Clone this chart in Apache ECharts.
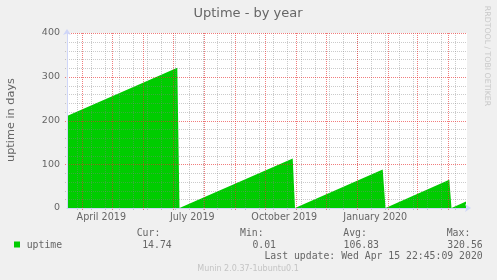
<!DOCTYPE html>
<html><head><meta charset="utf-8">
<script src="https://cdn.jsdelivr.net/npm/echarts@6/dist/echarts.min.js"></script>
<style>html,body{margin:0;padding:0;background:#f0f0f0}#c{width:497px;height:280px}</style>
</head><body><div id="c"></div>
<script>
// ---- data ----
const pointTimes = ['2019-03-16 17:00','2019-07-05 00:00','2019-07-07 05:00','2019-10-28 10:00','2019-10-30 17:00','2020-01-26 10:00','2020-01-29 05:00','2020-04-02 00:00','2020-04-04 05:00','2020-04-18 17:00'];
const uptimeDays = [210.3, 320.56, 0.01, 113, 0.01, 88, 0.01, 64.7, 0.01, 14.74];
const monthLineDates = ['2019-04-01','2019-05-01','2019-06-01','2019-07-01','2019-08-01','2019-09-01','2019-10-01','2019-11-01','2019-12-01','2020-01-01','2020-02-01','2020-03-01','2020-04-01'];
const quarterLabelDates = ['2019-04-20','2019-07-20','2019-10-20','2020-01-19'];
const quarterLabels = ['April 2019','July 2019','October 2019','January 2020'];
const axisStart = '2019-03-16 17:00';
const axisEnd = '2020-04-19 17:00';
const minorGridStart = '2019-03-27';
const minorGridDays = 14;
const yMinorStep = 20;
const yMajorTicks = [0, 100, 200, 300, 400];
const legendName = 'uptime';
const legendHeaders = ['Cur:', 'Min:', 'Avg:', 'Max:'];
const legendValues = ['14.74', '0.01', '106.83', '320.56'];
const lastUpdate = 'Last update: Wed Apr 15 22:45:09 2020';
const titleText = 'Uptime - by year';
const yTitle = 'uptime in days';
const sideText = 'RRDTOOL / TOBI OETIKER';
const footer = 'Munin 2.0.37-1ubuntu0.1';

// ---- helpers ----
function ts(s) {
  const parts = s.split(' ');
  const d = parts[0].split('-').map(Number);
  const t = (parts[1] || '00:00').split(':').map(Number);
  return Date.UTC(d[0], d[1] - 1, d[2], t[0], t[1]);
}
const DAY = 86400000;
const xMin = ts(axisStart), xMax = ts(axisEnd);
const monthTs = monthLineDates.map(ts);
const labelTs = quarterLabelDates.map(ts);
const minorTs = [];
for (let t = ts(minorGridStart); t < xMax; t += minorGridDays * DAY) minorTs.push(t);
const yMinorVals = [];
for (let v = yMinorStep; v < yMajorTicks[yMajorTicks.length-1]; v += yMinorStep) if (yMajorTicks.indexOf(v) < 0) yMinorVals.push(v);
const seriesData = pointTimes.map((p, i) => [ts(p), uptimeDays[i]]);

const gridColor = 'rgba(130,130,130,0.42)';
const majorColor = 'rgba(232,45,45,0.62)';
const axisBlue = '#CFD6F8';
const fontColor = '#666666';
const sans = '"DejaVu Sans"';
const mono = '"DejaVu Sans Mono"';

const headerX = [136.7, 240, 343.3, 446.7];
const valueX = [171.7, 276, 379, 482.7];

const graphics = [
  {type:'text', x:248, y:13.5, style:{text:titleText, fill:fontColor, font:'13px ' + sans, align:'center', verticalAlign:'middle'}},
  {type:'text', x:11.5, y:120, rotation:Math.PI/2, style:{text:yTitle, fill:fontColor, font:'11.3px ' + sans, align:'center', verticalAlign:'middle'}},
  {type:'text', x:487, y:56, rotation:-Math.PI/2, style:{text:sideText, fill:'#c8c8c8', font:'7.8px ' + sans, align:'center', verticalAlign:'middle'}},
  {type:'rect', shape:{x:14, y:241.5, width:6, height:6}, style:{fill:'#00cc00'}},
  {type:'text', x:26.7, y:245, style:{text:legendName, fill:fontColor, font:'9.8px ' + mono, align:'left', verticalAlign:'middle'}},
  {type:'text', x:482.7, y:256.7, style:{text:lastUpdate, fill:fontColor, font:'9.8px ' + mono, align:'right', verticalAlign:'middle'}},
  {type:'text', x:248, y:269.3, style:{text:footer, fill:'#c4c4c4', font:'8px ' + sans, align:'center', verticalAlign:'middle'}}
];
legendHeaders.forEach((h, i) => {
  graphics.push({type:'text', x:headerX[i], y:233.3, style:{text:h, fill:fontColor, font:'9.8px ' + mono, align:'left', verticalAlign:'middle'}});
  graphics.push({type:'text', x:valueX[i], y:245, style:{text:legendValues[i], fill:fontColor, font:'9.8px ' + mono, align:'right', verticalAlign:'middle'}});
});

function vGrid(values, color, z) {
  return {type:'custom', silent:true, z:z, xAxisIndex:0, yAxisIndex:0,
    data:values.map(v => [v, 0]), dimensions:['x','y'], encode:{x:0, y:1},
    renderItem:function(params, api){
      const cs = params.coordSys;
      const x = Math.round(api.coord([api.value(0), 0])[0]) + 0.5;
      return {type:'line', shape:{x1:x, y1:cs.y, x2:x, y2:cs.y + cs.height + 2},
        style:{stroke:color, fill:null, lineWidth:1, lineDash:[1,1]}};
    }};
}
function hGrid(values, color, z) {
  return {type:'custom', silent:true, z:z, xAxisIndex:0, yAxisIndex:0,
    data:values.map(v => [xMin, v]), dimensions:['x','y'], encode:{x:0, y:1},
    renderItem:function(params, api){
      const cs = params.coordSys;
      const y = Math.round(api.coord([xMin, api.value(1)])[1]) + 0.5;
      return {type:'line', shape:{x1:cs.x - 2, y1:y, x2:cs.x + cs.width, y2:y},
        style:{stroke:color, fill:null, lineWidth:1, lineDash:[1,1]}};
    }};
}

const chart = echarts.init(document.getElementById('c'), null, {renderer:'canvas'});
chart.setOption({
  animation:false,
  backgroundColor:'#f0f0f0',
  grid:{left:67, top:33, right:30, bottom:72, show:true, backgroundColor:'#ffffff', borderWidth:0},
  xAxis:[
    {type:'value', min:xMin, max:xMax, position:'bottom', z:6,
     axisLine:{show:true, onZero:false, lineStyle:{color:axisBlue, width:1}, symbol:['none','arrow'], symbolSize:[6,6], symbolOffset:[0,4]},
     axisTick:{show:false}, splitLine:{show:false},
     axisLabel:{show:true, customValues:labelTs, formatter:function(v){const i = labelTs.indexOf(v); return i >= 0 ? quarterLabels[i] : '';},
       color:fontColor, fontSize:9.6, fontFamily:'DejaVu Sans', margin:4}}
  ],
  yAxis:[
    {type:'value', min:0, max:400, interval:100, position:'left', z:6,
     axisLine:{show:true, onZero:false, lineStyle:{color:axisBlue, width:1}, symbol:['none','arrow'], symbolSize:[6,6], symbolOffset:[0,4]},
     axisTick:{show:false}, splitLine:{show:false},
     axisLabel:{show:true, color:fontColor, fontSize:9.5, fontFamily:'DejaVu Sans', margin:7}}
  ],
  series:[
    {type:'line', name:legendName, xAxisIndex:0, yAxisIndex:0, data:seriesData,
     symbol:'none', z:2,
     lineStyle:{width:0, color:'#00cc00'},
     areaStyle:{color:'#00cc00', opacity:1}},
    vGrid(minorTs, gridColor, 3),
    hGrid(yMinorVals, gridColor, 3),
    vGrid(monthTs, majorColor, 4),
    hGrid(yMajorTicks.slice(1), majorColor, 4)
  ],
  graphic:graphics
});
</script></body></html>
